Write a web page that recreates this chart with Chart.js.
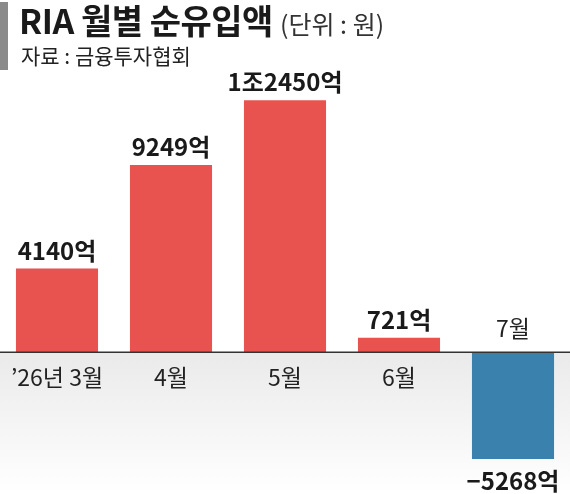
<!DOCTYPE html>
<html>
<head>
<meta charset="utf-8">
<script src="https://cdn.jsdelivr.net/npm/chart.js@4"></script>
<style>
  html, body { margin: 0; padding: 0; background: #fff; }
  #wrap { position: relative; width: 570px; height: 494px; overflow: hidden; }
  #bar { position: absolute; left: 0; top: 2px; width: 8px; height: 68px; background: #8a8a8a; }
  #title { position: absolute; left: 19px; top: 0px; font-family: "Noto Sans CJK KR"; font-weight: 700;
           font-size: 34px; line-height: 40px; color: #1a1a1a; letter-spacing: -0.5px; white-space: nowrap; }
  #title span { font-weight: 400; font-size: 25px; color: #333; letter-spacing: 0; }
  #source { position: absolute; left: 21px; top: 41px; font-family: "Noto Sans CJK KR"; font-size: 21px;
            line-height: 28px; color: #222; white-space: nowrap; }
  canvas { position: absolute; left: 0; top: 0; }
</style>
</head>
<body>
<div id="wrap">
  <canvas id="riaChart" width="570" height="494"></canvas>
  <div id="bar"></div>
  <div id="title">RIA 월별 순유입액 <span>(단위 : 원)</span></div>
  <div id="source">자료 : 금융투자협회</div>
</div>
<script>
// monthly net inflow, in 억원
var months = ["’26년 3월", "4월", "5월", "6월", "7월"];
var inflow = [4140, 9249, 12450, 721, -5268];
var valueLabels = ["4140억", "9249억", "1조2450억", "721억", "−5268억"];

var ctx = document.getElementById("riaChart").getContext("2d");

// gray fade under the zero line + the line itself across the full width
var zeroBand = {
  id: "zeroBand",
  beforeDatasetsDraw: function (chart) {
    var c = chart.ctx;
    var y0 = chart.scales.y.getPixelForValue(0);
    var g = c.createLinearGradient(0, y0, 0, chart.height);
    g.addColorStop(0, "#eaeaea");
    g.addColorStop(1, "#ffffff");
    c.save();
    c.fillStyle = g;
    c.fillRect(0, y0, chart.width, chart.height - y0);
    c.restore();
  },
  afterDatasetsDraw: function (chart) {
    var c = chart.ctx;
    var y0 = chart.scales.y.getPixelForValue(0);
    c.save();
    c.strokeStyle = "#333";
    c.lineWidth = 1.5;
    c.beginPath();
    c.moveTo(0, y0);
    c.lineTo(chart.width, y0);
    c.stroke();
    c.restore();
  },
};

// value labels on bars, month labels under the line (or above it for negatives)
var barText = {
  id: "barText",
  afterDraw: function (chart) {
    var c = chart.ctx;
    var y0 = chart.scales.y.getPixelForValue(0);
    var meta = chart.getDatasetMeta(0);
    c.save();
    c.textAlign = "center";
    c.textBaseline = "middle";
    meta.data.forEach(function (bar, i) {
      var v = inflow[i];
      c.fillStyle = "#1a1a1a";
      c.font = "bold 24px 'Noto Sans CJK KR'";
      if (v >= 0) {
        c.fillText(valueLabels[i], bar.x, bar.y - 18);
      } else {
        c.fillText(valueLabels[i], bar.x, bar.y + 22);
      }
      c.fillStyle = "#222";
      c.font = "23px 'Noto Sans CJK KR'";
      if (v >= 0) {
        c.fillText(months[i], bar.x, y0 + 25);
      } else {
        c.fillText(months[i], bar.x, y0 - 24);
      }
    });
    c.restore();
  },
};

var config = {
  type: "bar",
  data: {
    labels: months,
    datasets: [
      {
        data: inflow,
        backgroundColor: inflow.map(function (v) {
          return v >= 0 ? "#e8534f" : "#3a82ad";
        }),
        borderWidth: 0,
        barPercentage: 0.72,
        categoryPercentage: 1,
      },
    ],
  },
  options: {
    responsive: false,
    animation: false,
    layout: { padding: 0 },
    plugins: {
      legend: { display: false },
      tooltip: { enabled: false },
    },
    scales: {
      x: { display: false },
      y: { display: false, min: -7000, max: 17400 },
    },
  },
  plugins: [zeroBand, barText],
};

var myChart = new Chart(ctx, config);
</script>
</body>
</html>
